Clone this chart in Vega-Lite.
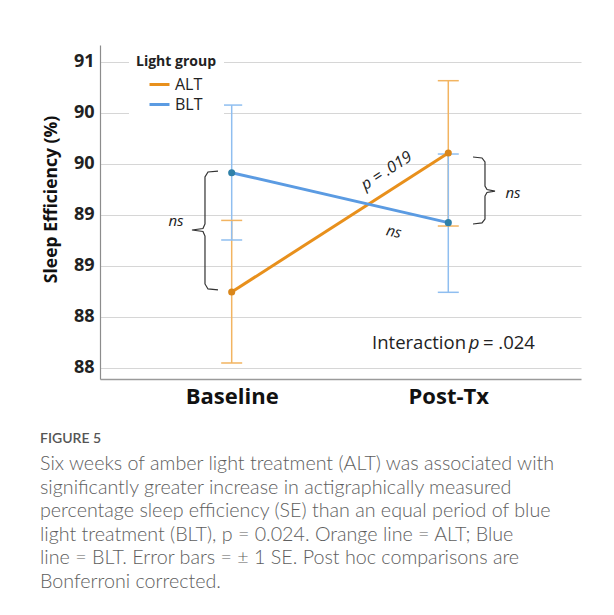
{
  "$schema": "https://vega.github.io/schema/vega-lite/v6.json",
  "width": 481,
  "height": 334,
  "autosize": {"type": "none"},
  "padding": {"left": 100, "top": 45, "right": 33, "bottom": 236},
  "background": "white",
  "datasets": {
    "means": [
      {"phase": "Baseline", "t": 0, "group": "ALT", "mean": 88.742, "lo": 88.046, "hi": 89.444},
      {"phase": "Baseline", "t": 0, "group": "BLT", "mean": 89.912, "lo": 89.252, "hi": 90.575},
      {"phase": "Post-Tx", "t": 1, "group": "ALT", "mean": 90.105, "lo": 89.389, "hi": 90.814},
      {"phase": "Post-Tx", "t": 1, "group": "BLT", "mean": 89.422, "lo": 88.739, "hi": 90.095}
    ],
    "braces": [
      {"brace": "baseline", "k": 1, "t": -0.0633, "v": 89.928},
      {"brace": "baseline", "k": 2, "t": -0.1094, "v": 89.919},
      {"brace": "baseline", "k": 3, "t": -0.1233, "v": 89.870},
      {"brace": "baseline", "k": 4, "t": -0.1233, "v": 89.409},
      {"brace": "baseline", "k": 5, "t": -0.1325, "v": 89.365},
      {"brace": "baseline", "k": 6, "t": -0.1833, "v": 89.350},
      {"brace": "baseline", "k": 7, "t": -0.1325, "v": 89.335},
      {"brace": "baseline", "k": 8, "t": -0.1233, "v": 89.291},
      {"brace": "baseline", "k": 9, "t": -0.1233, "v": 88.821},
      {"brace": "baseline", "k": 10, "t": -0.1094, "v": 88.772},
      {"brace": "baseline", "k": 11, "t": -0.0633, "v": 88.762},
      {"brace": "post", "k": 1, "t": 1.1140, "v": 90.066},
      {"brace": "post", "k": 2, "t": 1.1556, "v": 90.056},
      {"brace": "post", "k": 3, "t": 1.1694, "v": 90.017},
      {"brace": "post", "k": 4, "t": 1.1694, "v": 89.781},
      {"brace": "post", "k": 5, "t": 1.1787, "v": 89.747},
      {"brace": "post", "k": 6, "t": 1.2156, "v": 89.732},
      {"brace": "post", "k": 7, "t": 1.1787, "v": 89.718},
      {"brace": "post", "k": 8, "t": 1.1694, "v": 89.683},
      {"brace": "post", "k": 9, "t": 1.1694, "v": 89.458},
      {"brace": "post", "k": 10, "t": 1.1556, "v": 89.419},
      {"brace": "post", "k": 11, "t": 1.1140, "v": 89.409}
    ],
    "notes": [
      {"note": "ns-baseline", "label": "ns", "t": -0.257, "v": 89.438},
      {"note": "ns-post", "label": "ns", "t": 1.2987, "v": 89.716},
      {"note": "ns-blt", "label": "ns", "t": 0.749, "v": 89.333},
      {"note": "p-alt", "label": "p = .019", "t": 0.7147, "v": 89.93},
      {"note": "interaction", "label": "Interaction", "t": 1.0817, "v": 88.239},
      {"note": "interaction-p", "label": "p", "t": 1.1196, "v": 88.239},
      {"note": "interaction-value", "label": "= .024", "t": 1.1600, "v": 88.239}
    ]
  },
  "title": {
    "text": "FIGURE 5",
    "subtitle": [
      "Six weeks of amber light treatment (ALT) was associated with",
      "significantly greater increase in actigraphically measured",
      "percentage sleep efficiency (SE) than an equal period of blue",
      "light treatment (BLT), p = 0.024. Orange line = ALT; Blue",
      "line = BLT. Error bars = ± 1 SE. Post hoc comparisons are",
      "Bonferroni corrected."
    ],
    "orient": "bottom",
    "anchor": "start",
    "frame": "group",
    "dx": -60,
    "offset": 25,
    "font": "Lato",
    "fontSize": 14,
    "fontWeight": 600,
    "color": "#555555",
    "subtitleFont": "Lato",
    "subtitleFontSize": 19.7,
    "subtitleFontWeight": 300,
    "subtitleColor": "#5e5e5e",
    "subtitleLineHeight": 23.5,
    "subtitlePadding": 8
  },
  "layer": [
    {
      "data": {"name": "braces"},
      "mark": {"type": "line", "color": "#333333", "strokeWidth": 1.2},
      "encoding": {
        "x": {"field": "t", "type": "quantitative"},
        "y": {"field": "v", "type": "quantitative"},
        "detail": {"field": "brace"},
        "order": {"field": "k"}
      }
    },
    {
      "data": {"name": "means"},
      "mark": {"type": "rule", "strokeWidth": 1.5},
      "encoding": {
        "x": {"field": "t", "type": "quantitative"},
        "y": {"field": "lo", "type": "quantitative"},
        "y2": {"field": "hi"},
        "stroke": {"field": "group", "type": "nominal", "legend": null,
          "scale": {"range": ["#f2b461", "#8fbef0"]}}
      }
    },
    {
      "data": {"name": "means"},
      "mark": {"type": "point", "shape": "stroke", "size": 441, "strokeWidth": 1.5, "opacity": 1},
      "encoding": {
        "x": {"field": "t", "type": "quantitative"},
        "y": {"field": "lo", "type": "quantitative"},
        "stroke": {"field": "group", "type": "nominal", "legend": null}
      }
    },
    {
      "data": {"name": "means"},
      "mark": {"type": "point", "shape": "stroke", "size": 441, "strokeWidth": 1.5, "opacity": 1},
      "encoding": {
        "x": {"field": "t", "type": "quantitative"},
        "y": {"field": "hi", "type": "quantitative"},
        "stroke": {"field": "group", "type": "nominal", "legend": null}
      }
    },
    {
      "data": {"name": "means"},
      "mark": {"type": "line", "strokeWidth": 3},
      "encoding": {
        "x": {"field": "t", "type": "quantitative"},
        "y": {"field": "mean", "type": "quantitative"},
        "color": {
          "field": "group", "type": "nominal",
          "scale": {"domain": ["ALT", "BLT"], "range": ["#e8901c", "#5b9be2"]},
          "legend": {
            "title": "Light group",
            "orient": "none",
            "legendX": 29,
            "legendY": 3,
            "fillColor": "white",
            "padding": 7,
            "symbolType": "stroke",
            "symbolSize": 400,
            "symbolStrokeWidth": 3,
            "symbolOffset": 12,
            "labelOffset": 4,
            "rowPadding": 0,
            "titlePadding": 4,
            "titleFont": "Open Sans",
            "titleFontWeight": "bold",
            "titleFontSize": 14,
            "titleColor": "#222222",
            "labelFont": "Open Sans",
            "labelFontSize": 16,
            "labelColor": "#222222"
          }
        }
      }
    },
    {
      "data": {"name": "means"},
      "mark": {"type": "circle", "size": 50, "opacity": 1},
      "encoding": {
        "x": {"field": "t", "type": "quantitative"},
        "y": {"field": "mean", "type": "quantitative"},
        "fill": {"field": "group", "type": "nominal", "legend": null,
          "scale": {"range": ["#d9861a", "#2f80a8"]}}
      }
    },
    {
      "data": {"name": "notes"},
      "transform": [{"filter": "datum.note === 'ns-baseline' || datum.note === 'ns-post'"}],
      "mark": {"type": "text", "font": "Open Sans", "fontStyle": "italic", "fontSize": 15, "color": "#222222"},
      "encoding": {
        "x": {"field": "t", "type": "quantitative"},
        "y": {"field": "v", "type": "quantitative"},
        "text": {"field": "label"}
      }
    },
    {
      "data": {"name": "notes"},
      "transform": [{"filter": "datum.note === 'ns-blt'"}],
      "mark": {"type": "text", "font": "Open Sans", "fontStyle": "italic", "fontSize": 15, "color": "#222222", "angle": 13},
      "encoding": {
        "x": {"field": "t", "type": "quantitative"},
        "y": {"field": "v", "type": "quantitative"},
        "text": {"field": "label"}
      }
    },
    {
      "data": {"name": "notes"},
      "transform": [{"filter": "datum.note === 'p-alt'"}],
      "mark": {"type": "text", "font": "Open Sans", "fontStyle": "italic", "fontSize": 16, "color": "#222222", "angle": -33},
      "encoding": {
        "x": {"field": "t", "type": "quantitative"},
        "y": {"field": "v", "type": "quantitative"},
        "text": {"field": "label"}
      }
    },
    {
      "data": {"name": "notes"},
      "transform": [{"filter": "datum.note === 'interaction'"}],
      "mark": {"type": "text", "font": "Open Sans", "fontSize": 18.5, "color": "#222222", "align": "right"},
      "encoding": {
        "x": {"field": "t", "type": "quantitative"},
        "y": {"field": "v", "type": "quantitative"},
        "text": {"field": "label"}
      }
    },
    {
      "data": {"name": "notes"},
      "transform": [{"filter": "datum.note === 'interaction-p'"}],
      "mark": {"type": "text", "font": "Open Sans", "fontStyle": "italic", "fontSize": 18.5, "color": "#222222", "align": "center"},
      "encoding": {
        "x": {"field": "t", "type": "quantitative"},
        "y": {"field": "v", "type": "quantitative"},
        "text": {"field": "label"}
      }
    },
    {
      "data": {"name": "notes"},
      "transform": [{"filter": "datum.note === 'interaction-value'"}],
      "mark": {"type": "text", "font": "Open Sans", "fontSize": 18.5, "color": "#222222", "align": "left"},
      "encoding": {
        "x": {"field": "t", "type": "quantitative"},
        "y": {"field": "v", "type": "quantitative"},
        "text": {"field": "label"}
      }
    }
  ],
  "encoding": {
    "x": {
      "field": "t", "type": "quantitative",
      "scale": {"domain": [-0.608, 1.6127], "nice": false, "zero": false},
      "axis": {
        "title": null,
        "values": [0, 1],
        "labelExpr": "datum.value < 0.5 ? 'Baseline' : 'Post-Tx'",
        "grid": false,
        "ticks": false,
        "domainColor": "#9a9a9a",
        "domainWidth": 1.5,
        "labelFont": "Open Sans",
        "labelFontWeight": "bold",
        "labelFontSize": 22,
        "labelColor": "#111111",
        "labelPadding": 7
      }
    },
    "y": {
      "field": "v", "type": "quantitative",
      "scale": {"domain": [87.889, 91.164], "nice": false, "zero": false},
      "axis": {
        "title": "Sleep Efficiency (%)",
        "titleY": 154,
        "values": [88, 88.5, 89, 89.5, 90, 90.5, 91],
        "labelExpr": "floor(datum.value)",
        "grid": true,
        "gridColor": "#d6d6d6",
        "gridWidth": 1.2,
        "ticks": false,
        "domainColor": "#8c8c8c",
        "domainWidth": 1.2,
        "labelFont": "Open Sans",
        "labelFontWeight": "bold",
        "labelFontSize": 18,
        "labelColor": "#222222",
        "labelPadding": 6,
        "titleFont": "Open Sans",
        "titleFontWeight": "bold",
        "titleFontSize": 17.5,
        "titleColor": "#111111",
        "titlePadding": 13
      }
    }
  },
  "config": {
    "view": {"stroke": null},
    "axis": {"labelOverlap": false}
  }
}
